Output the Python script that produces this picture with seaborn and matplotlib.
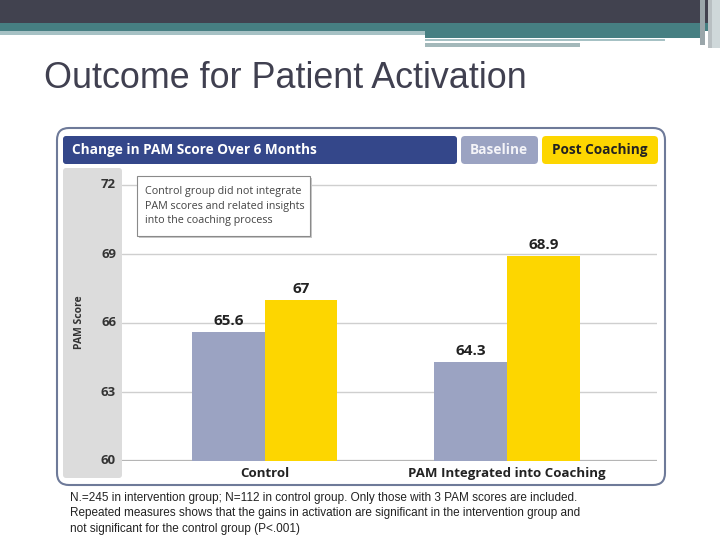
import pandas as pd
import matplotlib.pyplot as plt
import seaborn as sns
from matplotlib.patches import Rectangle, FancyBboxPatch

# --- data ---
groups = ['Control', 'PAM Integrated into Coaching']
phases = ['Baseline', 'Post Coaching']
baseline = [65.6, 64.3]
post_coaching = [67, 68.9]
y_ticks = [60, 63, 66, 69, 72]

df = pd.DataFrame({
    'group': groups * 2,
    'phase': [phases[0]] * 2 + [phases[1]] * 2,
    'score': baseline + post_coaching,
})

c_base = '#9ba3c2'
c_post = '#fdd600'
c_navy = '#34478a'

sns.set_style('white')
plt.rcParams['font.family'] = ['Open Sans', 'DejaVu Sans']

fig = plt.figure(figsize=(7.2, 5.4), dpi=100)

# background layer in pixel coordinates
bg = fig.add_axes([0, 0, 1, 1], zorder=0)
bg.set_xlim(0, 720)
bg.set_ylim(540, 0)
bg.axis('off')

def box(a, x0, y0, x1, y1, color, **kw):
    a.add_patch(Rectangle((x0, y0), x1 - x0, y1 - y0, facecolor=color, edgecolor='none', **kw))

# slide header bars
box(bg, 0, 0, 720, 23, '#41424f')
box(bg, 0, 23, 720, 31, '#467f82')
box(bg, 0, 31, 425, 35, '#a6c1c4')
box(bg, 425, 31, 700, 38, '#467f82')
box(bg, 425, 39, 665, 41, '#a6c1c4')
box(bg, 425, 43, 580, 47, '#a3b8ba')
box(bg, 700, 0, 705, 45, '#9aa6aa')
box(bg, 708, 0, 712, 48, '#b8bfc2')
box(bg, 712, 0, 720, 48, '#cfd8da')

bg.text(44, 79, 'Outcome for Patient Activation', fontsize=25.8, color='#404050',
        family=['Liberation Sans', 'DejaVu Sans'], va='center', ha='left')

# chart frame
bg.add_patch(FancyBboxPatch((57, 128), 608, 357, boxstyle='round,pad=0,rounding_size=12',
                            facecolor='white', edgecolor='#6e7a99', linewidth=1.5))
# header banner and legend tabs
bg.add_patch(FancyBboxPatch((63, 136), 394, 28, boxstyle='round,pad=0,rounding_size=3',
                            facecolor=c_navy, edgecolor='none'))
bg.add_patch(FancyBboxPatch((461, 136), 77, 28, boxstyle='round,pad=0,rounding_size=4',
                            facecolor=c_base, edgecolor='none'))
bg.add_patch(FancyBboxPatch((542, 136), 116, 28, boxstyle='round,pad=0,rounding_size=4',
                            facecolor=c_post, edgecolor='none'))
bg.text(72, 150, 'Change in PAM Score Over 6 Months', color='white', fontsize=9.8,
        fontweight='bold', va='center')
bg.text(499, 150, 'Baseline', color='#f4f4f8', fontsize=9.8, fontweight='bold',
        va='center', ha='center')
bg.text(600, 150, 'Post Coaching', color='#222222', fontsize=9.8, fontweight='bold',
        va='center', ha='center')

# y axis gray band
bg.add_patch(FancyBboxPatch((63, 168), 59, 310, boxstyle='round,pad=0,rounding_size=3',
                            facecolor='#dcdcdc', edgecolor='none'))
bg.text(79, 322, 'PAM Score', rotation=90, fontsize=7.5, fontweight='bold',
        color='#333333', va='center', ha='center')

# bar chart
ax = fig.add_axes([122 / 720, 1 - 461 / 540, 535 / 720, 293 / 540], zorder=1)
ax.patch.set_alpha(0)
sns.barplot(data=df, x='group', y='score', hue='phase', hue_order=phases,
            palette=[c_base, c_post], width=0.6, saturation=1, legend=False,
            linewidth=0, ax=ax)
ax.set_ylim(60, 72.74)
ax.set_xlim(-0.59, 1.62)
ax.set_yticks(y_ticks)
ax.set_yticklabels([])
for t in y_ticks:
    ax.axhline(t, color='#cfcfcf' if t > 60 else '#b5b5b5',
               lw=1 if t > 60 else 1.6, zorder=0)
for sp in ax.spines.values():
    sp.set_visible(False)
ax.set_xlabel('')
ax.set_ylabel('')
ax.tick_params(length=0)
ax.tick_params(axis='x', pad=4)
for lab in ax.get_xticklabels():
    lab.set_fontweight('bold')
    lab.set_fontsize(9.5)
    lab.set_color('#222222')
for cont in ax.containers:
    ax.bar_label(cont, fmt='%g', padding=3, fontsize=11, fontweight='bold', color='#222222')

# y tick labels drawn in the gray band
for t in y_ticks:
    ypx = 461 - (t - 60) * (276 / 12)
    bg.text(116, ypx, str(t), ha='right', va='center', fontsize=9.5,
            fontweight='bold', color='#333333')

# annotation box and footnote on top
top = fig.add_axes([0, 0, 1, 1], zorder=2)
top.set_xlim(0, 720)
top.set_ylim(540, 0)
top.axis('off')
top.add_patch(Rectangle((139, 178), 173, 60, facecolor='#c8c8c8', edgecolor='none'))
top.add_patch(Rectangle((137, 176), 173, 60, facecolor='white', edgecolor='#8a8a8a', lw=0.8))
top.text(145, 206, 'Control group did not integrate\nPAM scores and related insights\ninto the coaching process',
         fontsize=7.75, color='#444444', va='center', ha='left', linespacing=1.45)

foot = ('N.=245 in intervention group; N=112 in control group. Only those with 3 PAM scores are included.\n'
        'Repeated measures shows that the gains in activation are significant in the intervention group and\n'
        'not significant for the control group (P<.001)')
top.text(70, 492, foot, fontsize=8.5, color='#222222', va='top', ha='left',
         family=['Liberation Sans', 'DejaVu Sans'], linespacing=1.38)

fig.savefig('out.png', dpi=100)
